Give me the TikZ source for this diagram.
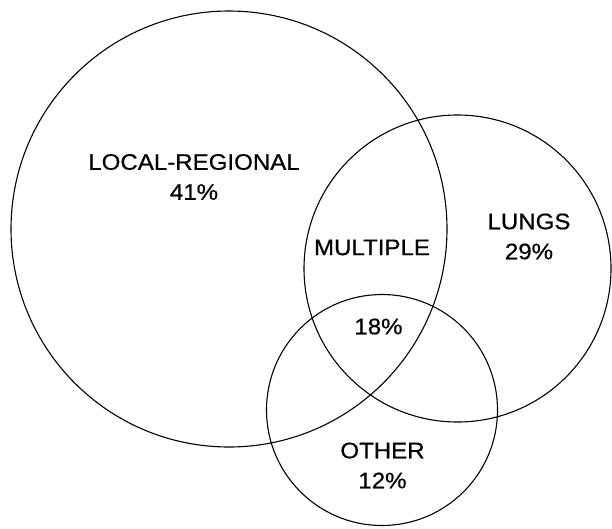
\documentclass[tikz,border=0pt]{standalone}
\usepackage{fontspec}
\setmainfont[FakeStretch=1.07,FakeBold=0.6]{Liberation Sans}
\usetikzlibrary{positioning}
\tikzset{
	set/.style={draw,circle,line width=1.1pt,inner sep=0pt},
	lbl/.style={font=\fontsize{22.5}{30}\selectfont,align=center,inner sep=0pt},
}
\begin{document}
\begin{tikzpicture}[x=1pt,y=-1pt]
				\useasboundingbox (0,0) rectangle (612,528);
				\node (local) at (229,229) [set,minimum size=436pt] {};
				\node (lungs) at (457.5,268.5) [set,minimum size=307pt] {};
				\node (other) at (382,410) [set,minimum size=231pt] {};
				
				\node (localtxt) at (194,177) [lbl] {LOCAL-REGIONAL\\41\%};
				\node (lungstxt) at (529,236.5) [lbl] {LUNGS\\29\%};
				\node (othertxt) at (382.5,465.5) [lbl] {OTHER\\12\%};
				\node (multi) at (372,247.5) [lbl] {MULTIPLE};
				\node (multipct) at (378.5,326.5) [lbl] {18\%};
				
\end{tikzpicture}
\end{document}
